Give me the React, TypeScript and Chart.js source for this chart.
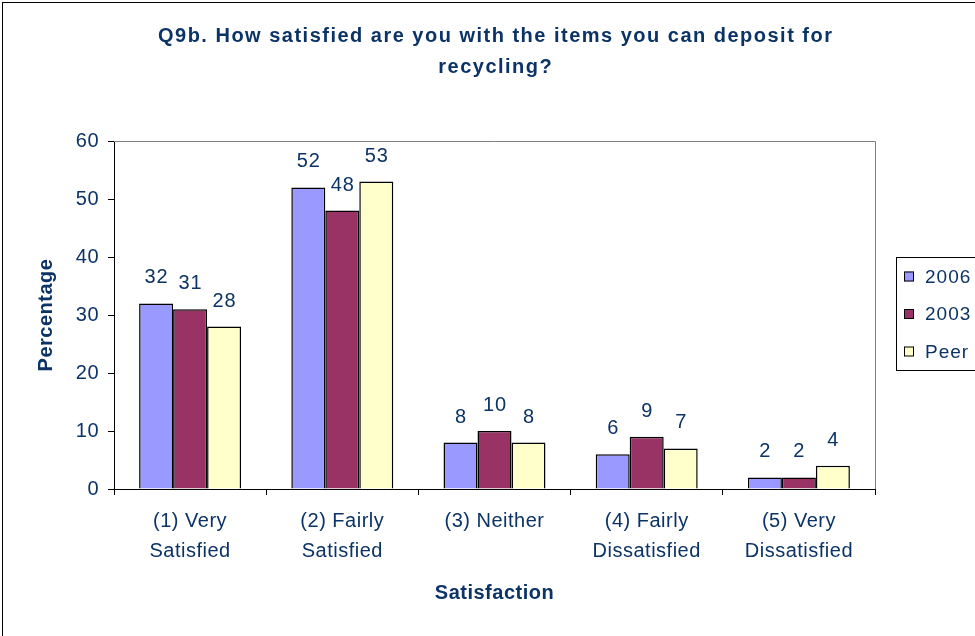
import React, { useEffect, useRef } from "react";
import { Chart, registerables } from "chart.js";

Chart.register(...registerables);

// ---- data ----
const categories: (string | string[])[] = [
  ["(1) Very", "Satisfied"],
  ["(2) Fairly", "Satisfied"],
  "(3) Neither",
  ["(4) Fairly", "Dissatisfied"],
  ["(5) Very", "Dissatisfied"],
];
const seriesNames = ["2006", "2003", "Peer"];
const values2006 = [32, 52, 8, 6, 2];
const values2003 = [31, 48, 10, 9, 2];
const valuesPeer = [28, 53, 8, 7, 4];
const yTicks = [0, 10, 20, 30, 40, 50, 60];
const titleLines = [
  "Q9b. How satisfied are you with the items you can deposit for",
  "recycling?",
];
const xTitle = "Satisfaction";
const yTitle = "Percentage";

// ---- style ----
const NAVY = "#0b3366";
const FONT = "'Liberation Sans', Arial, sans-serif";
const COLORS = ["#9999FF", "#993366", "#FFFFCC"];

const decor = {
  id: "decor",
  beforeDraw(chart: any) {
    const ctx = chart.ctx as CanvasRenderingContext2D;
    ctx.save();
    ctx.fillStyle = "#ffffff";
    ctx.fillRect(0, 0, chart.width, chart.height);
    ctx.strokeStyle = "#000";
    ctx.lineWidth = 1;
    ctx.strokeRect(2.5, 2.5, chart.width + 20, chart.height + 20);
    ctx.restore();
    (ctx as any).letterSpacing = "0.5px";
  },
  afterDatasetsDraw(chart: any) {
    const ctx = chart.ctx as CanvasRenderingContext2D;
    ctx.save();
    (ctx as any).letterSpacing = "1px";
    ctx.font = `20px ${FONT}`;
    ctx.fillStyle = NAVY;
    ctx.textAlign = "center";
    ctx.textBaseline = "alphabetic";
    chart.data.datasets.forEach((ds: any, i: number) => {
      const meta = chart.getDatasetMeta(i);
      meta.data.forEach((el: any, j: number) => {
        ctx.fillText(String(ds.data[j]), el.x + 0.5, el.y - 20);
      });
    });
    ctx.restore();
  },
  afterDraw(chart: any) {
    const ctx = chart.ctx as CanvasRenderingContext2D;
    const a = chart.chartArea;
    ctx.save();
    // plot area border (top & right)
    ctx.strokeStyle = "#808080";
    ctx.lineWidth = 1;
    ctx.beginPath();
    ctx.moveTo(a.left, Math.round(a.top) + 0.5);
    ctx.lineTo(Math.round(a.right) + 0.5, Math.round(a.top) + 0.5);
    ctx.lineTo(Math.round(a.right) + 0.5, a.bottom);
    ctx.stroke();

    // title
    ctx.fillStyle = NAVY;
    ctx.font = `bold 20px ${FONT}`;
    (ctx as any).letterSpacing = "0px";
    const w0 = ctx.measureText(titleLines[0]).width;
    const target = 674;
    const sp = Math.max(0, (target - w0) / (titleLines[0].length - 1));
    (ctx as any).letterSpacing = `${sp}px`;
    ctx.textAlign = "left";
    ctx.textBaseline = "alphabetic";
    const cx = 495;
    titleLines.forEach((line, i) => {
      const w = ctx.measureText(line).width - sp;
      ctx.fillText(line, cx - w / 2, 42 + i * 31);
    });

    // legend
    (ctx as any).letterSpacing = "1px";
    ctx.strokeStyle = "#000";
    ctx.lineWidth = 1;
    ctx.strokeRect(896.5, 257.5, 120, 113);
    ctx.font = `19px ${FONT}`;
    ctx.textBaseline = "middle";
    const rows = [276.5, 314, 351.5];
    chart.data.datasets.forEach((ds: any, i: number) => {
      const y = rows[i];
      ctx.fillStyle = ds.backgroundColor;
      ctx.fillRect(904, y - 5, 10, 10);
      ctx.strokeRect(904.5, y - 4.5, 9, 9);
      ctx.fillStyle = NAVY;
      ctx.fillText(ds.label, 925, y + 1);
    });
    ctx.restore();
    (ctx as any).letterSpacing = "0px";
  },
};

export default function App() {
  const ref = useRef<HTMLCanvasElement>(null);
  useEffect(() => {
    if (!ref.current) return;
    const datasets = [values2006, values2003, valuesPeer].map((vals, i) => ({
      label: seriesNames[i],
      data: vals,
      backgroundColor: COLORS[i],
      borderColor: "#000",
      borderWidth: 1.5,
      categoryPercentage: 0.67,
      barPercentage: 1.0,
    }));
    const chart = new Chart(ref.current, {
      type: "bar",
      data: { labels: categories, datasets },
      plugins: [decor],
      options: {
        responsive: false,
        animation: false,
        devicePixelRatio: 1,
        layout: { padding: { left: 0, top: 141, right: 100, bottom: 0 } },
        plugins: {
          legend: { display: false },
          title: { display: false },
          tooltip: { enabled: false },
        },
        scales: {
          x: {
            afterFit: (s: any) => {
              s.height = 147;
            },
            grid: {
              display: true,
              drawOnChartArea: false,
              drawTicks: true,
              tickLength: 6,
              color: "#000",
              tickColor: "#000",
              offset: true,
            },
            border: { display: true, color: "#000", width: 1 },
            ticks: {
              color: NAVY,
              padding: 11,
              maxRotation: 0,
              autoSkip: false,
              font: { family: FONT, size: 20, lineHeight: 30 / 20 },
            },
            title: {
              display: true,
              text: xTitle,
              color: NAVY,
              font: { family: FONT, size: 20, weight: "bold", lineHeight: 1.2 },
              padding: { top: 0, bottom: 31 },
            },
          },
          y: {
            min: 0,
            max: 60,
            afterFit: (s: any) => {
              s.width = 114;
            },
            afterBuildTicks: (s: any) => {
              s.ticks = yTicks.map((v) => ({ value: v }));
            },
            grid: {
              display: true,
              drawOnChartArea: false,
              drawTicks: true,
              tickLength: 6,
              color: "#000",
              tickColor: "#000",
            },
            border: { display: true, color: "#000", width: 1 },
            ticks: {
              color: NAVY,
              padding: 9,
              font: { family: FONT, size: 20 },
            },
            title: {
              display: true,
              text: yTitle,
              color: NAVY,
              font: { family: FONT, size: 20, weight: "bold", lineHeight: 1.2 },
              padding: { top: 34, bottom: 0 },
            },
          },
        },
      } as any,
    });
    return () => chart.destroy();
  }, []);
  return (
    <div
      style={{
        position: "fixed",
        left: 0,
        top: 0,
        width: 975,
        height: 636,
        overflow: "hidden",
        background: "#fff",
      }}
    >
      <canvas ref={ref} width={975} height={636} style={{ display: "block" }} />
    </div>
  );
}
